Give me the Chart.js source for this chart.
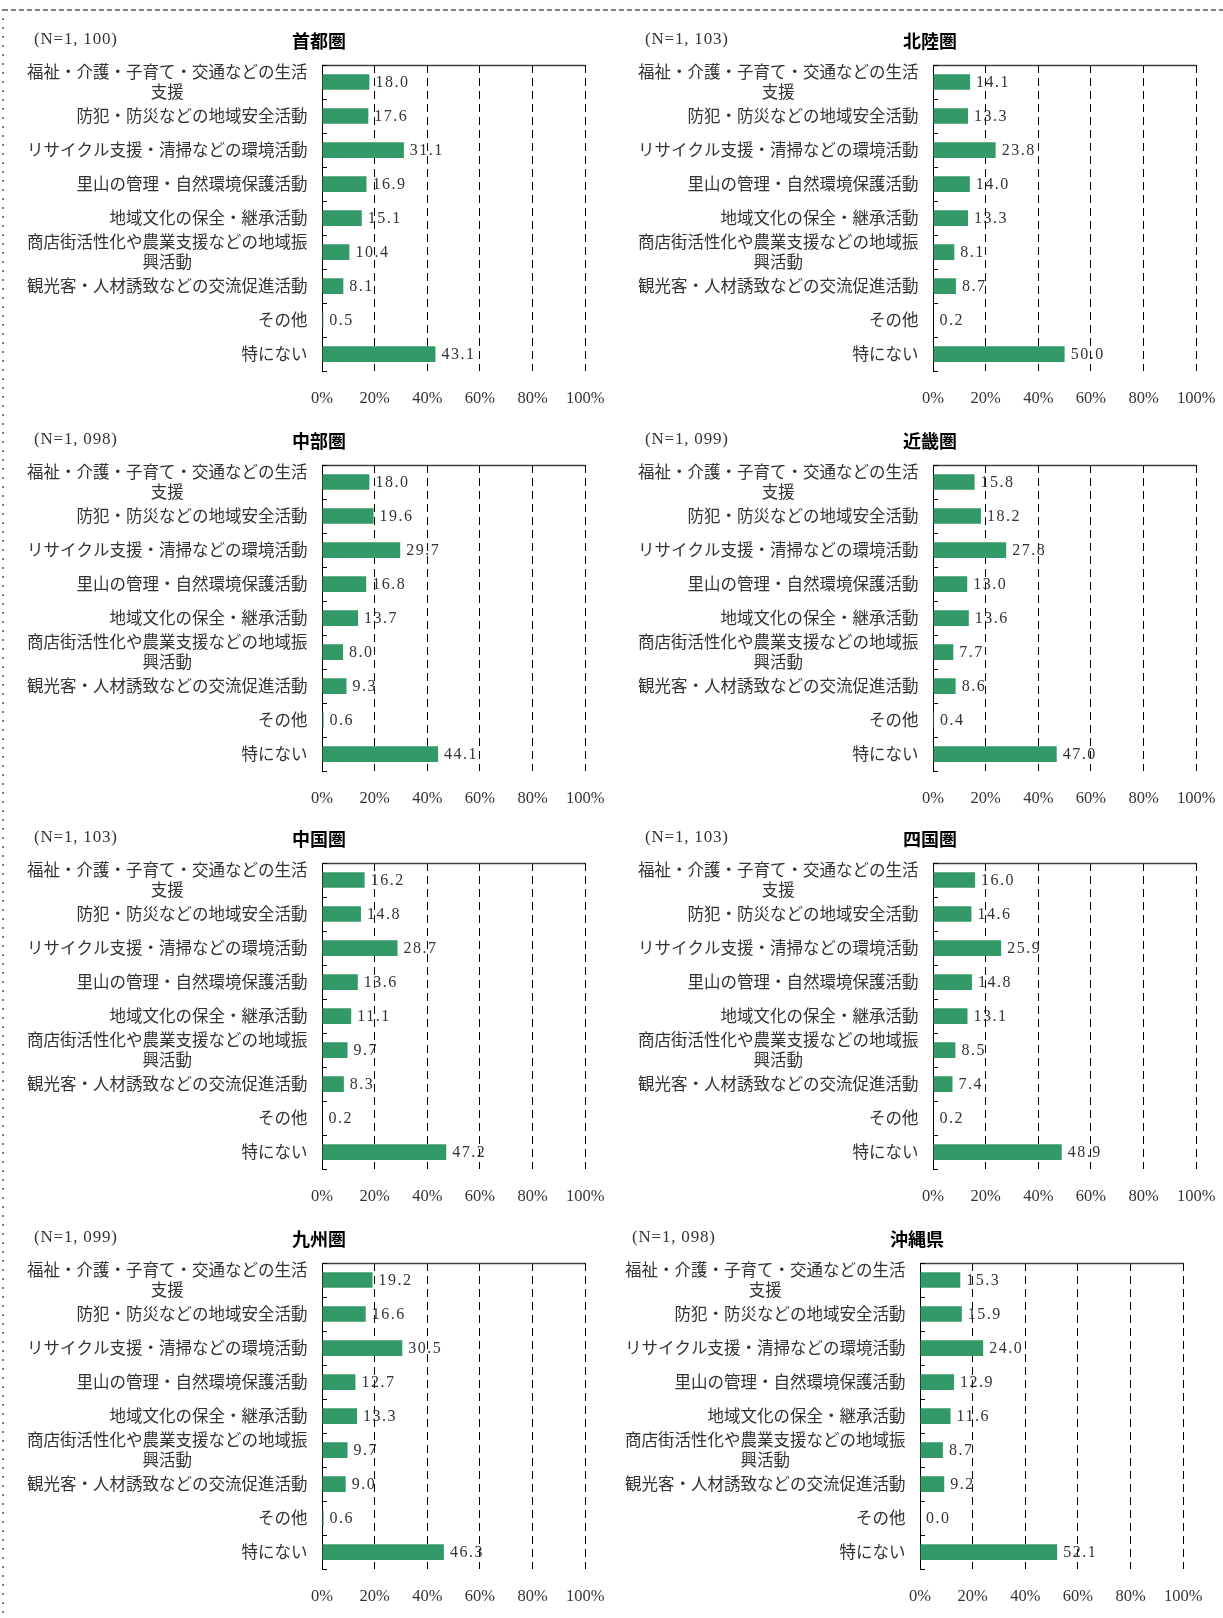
<!DOCTYPE html>
<html>
<head>
<meta charset="utf-8">
<script src="https://cdn.jsdelivr.net/npm/chart.js@4.4.1/dist/chart.umd.min.js"></script>
<style>
  body { margin: 0; background: #fff; width: 1223px; height: 1618px; position: relative; overflow: hidden; }
  #topline { position: absolute; left: 3px; top: 9px; width: 1220px; height: 2px;
             background: repeating-linear-gradient(90deg, #7f7f7f 0 5px, transparent 5px 8px); }
  #leftline { position: absolute; left: 2px; top: 9px; width: 2px; height: 1609px;
              background: repeating-linear-gradient(180deg, #7f7f7f 0 2px, transparent 2px 9px); }
  .panel { position: absolute; width: 622px; height: 412px; }
</style>
</head>
<body>
<div id="topline"></div>
<div id="leftline"></div>
<div class="panel" style="left:0px;top:14px"><canvas id="c0" width="622" height="412"></canvas></div>
<div class="panel" style="left:611px;top:14px"><canvas id="c1" width="622" height="412"></canvas></div>
<div class="panel" style="left:0px;top:414px"><canvas id="c2" width="622" height="412"></canvas></div>
<div class="panel" style="left:611px;top:414px"><canvas id="c3" width="622" height="412"></canvas></div>
<div class="panel" style="left:0px;top:812px"><canvas id="c4" width="622" height="412"></canvas></div>
<div class="panel" style="left:611px;top:812px"><canvas id="c5" width="622" height="412"></canvas></div>
<div class="panel" style="left:0px;top:1212px"><canvas id="c6" width="622" height="412"></canvas></div>
<div class="panel" style="left:598px;top:1212px"><canvas id="c7" width="622" height="412"></canvas></div>
<script>
// categories (multi-line ones wrap like the original)
var categories = [
  ["福祉・介護・子育て・交通などの生活", "支援"],
  "防犯・防災などの地域安全活動",
  "リサイクル支援・清掃などの環境活動",
  "里山の管理・自然環境保護活動",
  "地域文化の保全・継承活動",
  ["商店街活性化や農業支援などの地域振", "興活動"],
  "観光客・人材誘致などの交流促進活動",
  "その他",
  "特にない"
];

var regions = ["首都圏", "北陸圏", "中部圏", "近畿圏", "中国圏", "四国圏", "九州圏", "沖縄県"];
var sampleSizes = ["1, 100", "1, 103", "1, 098", "1, 099", "1, 103", "1, 103", "1, 099", "1, 098"];

// percentages
var shutoken = [18.0, 17.6, 31.1, 16.9, 15.1, 10.4, 8.1, 0.5, 43.1];
var hokuriku = [14.1, 13.3, 23.8, 14.0, 13.3, 8.1, 8.7, 0.2, 50.0];
var chubu    = [18.0, 19.6, 29.7, 16.8, 13.7, 8.0, 9.3, 0.6, 44.1];
var kinki    = [15.8, 18.2, 27.8, 13.0, 13.6, 7.7, 8.6, 0.4, 47.0];
var chugoku  = [16.2, 14.8, 28.7, 13.6, 11.1, 9.7, 8.3, 0.2, 47.2];
var shikoku  = [16.0, 14.6, 25.9, 14.8, 13.1, 8.5, 7.4, 0.2, 48.9];
var kyushu   = [19.2, 16.6, 30.5, 12.7, 13.3, 9.7, 9.0, 0.6, 46.3];
var okinawa  = [15.3, 15.9, 24.0, 12.9, 11.6, 8.7, 9.2, 0.0, 52.1];

var xTicks = [0, 20, 40, 60, 80, 100];

var allValues = [shutoken, hokuriku, chubu, kinki, chugoku, shikoku, kyushu, okinawa];

var serif = "'Liberation Serif', 'DejaVu Serif', serif";
var jp = "'Noto Sans CJK JP', sans-serif";

// draws the category labels, inner ticks, top line, value labels and headings
var panelDecor = {
  id: 'panelDecor',
  afterDraw: function(chart) {
    var ctx = chart.ctx;
    var area = chart.chartArea;
    var y = chart.scales.y;
    var n = chart.data.labels.length;
    ctx.save();

    // top line
    ctx.strokeStyle = '#404040';
    ctx.lineWidth = 1.5;
    ctx.beginPath();
    ctx.moveTo(area.left, area.top + 0.5);
    ctx.lineTo(area.right, area.top + 0.5);
    ctx.stroke();

    // small inner ticks between categories
    ctx.strokeStyle = '#000';
    ctx.lineWidth = 1;
    for (var i = 0; i <= n; i++) {
      var ty = Math.round(y.getPixelForValue(i - 0.5)) + 0.5;
      ctx.beginPath();
      ctx.moveTo(area.left, ty);
      ctx.lineTo(area.left + 5, ty);
      ctx.stroke();
    }

    // category labels
    ctx.fillStyle = '#333';
    ctx.font = '16.5px ' + jp;
    ctx.textBaseline = 'middle';
    var right = area.left - 14.5;
    chart.data.labels.forEach(function(lab, i) {
      var cy = y.getPixelForValue(i);
      if (Array.isArray(lab)) {
        var w = Math.max.apply(null, lab.map(function(s) { return ctx.measureText(s).width; }));
        ctx.textAlign = 'center';
        lab.forEach(function(s, k) {
          ctx.fillText(s, right - w / 2, cy + (k - (lab.length - 1) / 2) * 20.2);
        });
      } else {
        ctx.textAlign = 'right';
        ctx.fillText(lab, right, cy);
      }
    });

    // value labels
    ctx.font = '16px ' + serif;
    ctx.letterSpacing = '1.5px';
    ctx.textAlign = 'left';
    var meta = chart.getDatasetMeta(0);
    var vals = chart.data.datasets[0].data;
    meta.data.forEach(function(bar, i) {
      ctx.fillText(vals[i].toFixed(1), bar.x + 6, bar.y + 1);
    });

    // headings
    ctx.letterSpacing = '0.8px';
    ctx.font = '17px ' + serif;
    ctx.fillText('(N=' + chart.options.plugins.panelDecor.n + ')', 34, 26);
    ctx.letterSpacing = '0px';
    ctx.fillStyle = '#000';
    ctx.font = 'bold 18px ' + jp;
    ctx.textAlign = 'center';
    ctx.fillText(chart.options.plugins.panelDecor.title, 319, 27);
    ctx.restore();
  }
};

allValues.forEach(function(values, idx) {
  new Chart(document.getElementById('c' + idx), {
    type: 'bar',
    data: {
      labels: categories,
      datasets: [{
        data: values,
        backgroundColor: '#339966',
        borderWidth: 0,
        barPercentage: 0.46,
        categoryPercentage: 1
      }]
    },
    options: {
      indexAxis: 'y',
      responsive: false,
      animation: false,
      events: [],
      layout: { padding: { left: 322, right: 26, top: 51, bottom: 0 } },
      plugins: {
        legend: { display: false },
        title: { display: false },
        tooltip: { enabled: false },
        panelDecor: { title: regions[idx], n: sampleSizes[idx] }
      },
      scales: {
        x: {
          min: 0,
          max: 100,
          afterBuildTicks: function(scale) {
            scale.ticks = xTicks.map(function(v) { return { value: v }; });
          },
          ticks: {
            callback: function(v) { return v + '%'; },
            font: { family: serif, size: 16.5 },
            color: '#333',
            padding: 17.5,
            maxRotation: 0
          },
          grid: {
            drawTicks: false,
            lineWidth: 1,
            color: function(c) { return c.tick && c.tick.value === 0 ? 'rgba(0,0,0,0)' : '#000'; }
          },
          border: { display: false, dash: [8, 5] }
        },
        y: {
          ticks: { display: false },
          grid: { display: false, drawTicks: false },
          border: { display: true, color: '#000', width: 1 }
        }
      }
    },
    plugins: [panelDecor]
  });
});
</script>
</body>
</html>
